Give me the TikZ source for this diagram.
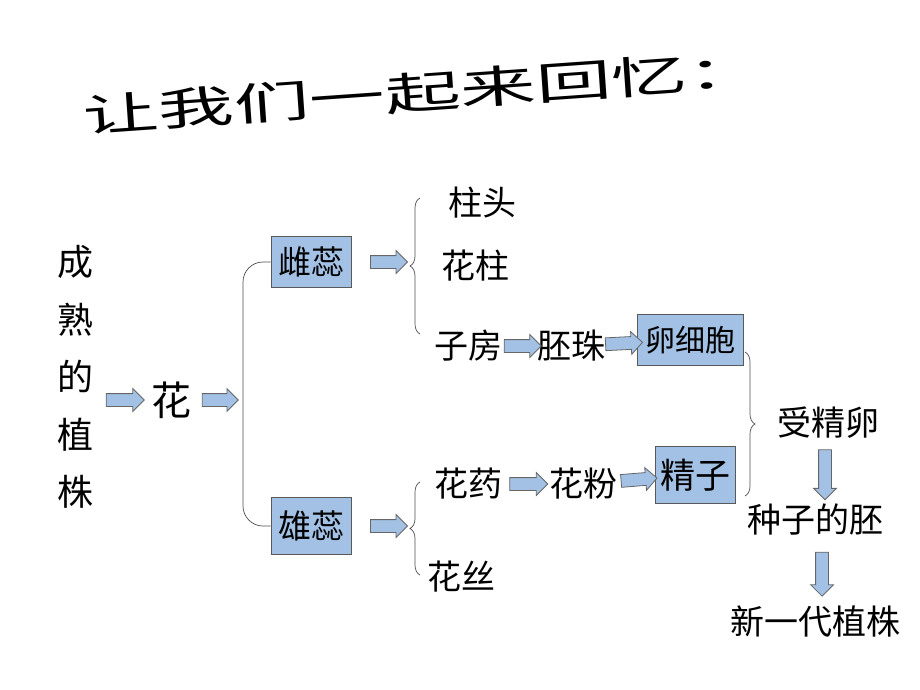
\documentclass[tikz,border=0pt]{standalone}
\usepackage{fontspec}
\setmainfont{Noto Sans CJK SC}
\usepackage{xcolor}
\usetikzlibrary{shapes.arrows, decorations.pathreplacing, positioning}
\definecolor{boxblue}{RGB}{163,193,228}
\newcommand{\fsz}[1]{\fontsize{#1}{#1}\selectfont}

\begin{document}
\begin{tikzpicture}[
        x=1pt, y=-1pt,
        word/.style={inner sep=0pt, font=\fsz{34}},
        box/.style={rectangle, draw=black!65, fill=boxblue, line width=1pt, inner sep=4pt, font=\fsz{33}},
        barrow/.style={single arrow, draw=black!60, fill=boxblue, line width=0.8pt, inner sep=0pt, inner ysep=6pt, single arrow head extend=5pt, sloped},
        brace/.style={decorate, decoration={brace, amplitude=10pt}, draw=black!70, line width=0.7pt},
        bracket/.style={draw=black!70, line width=0.7pt, rounded corners=20pt}
    ]
        \useasboundingbox (0,0) rectangle (920,690);

        % title
        \node [inner sep=0pt, font=\fsz{44}, rotate=4, xscale=1.72] (title) at (423,92) {让我们一起来回忆：};

        % left part
        \node [inner sep=0pt, font=\fontsize{36}{57.5}\selectfont, align=center] (plant) at (75,377) {成\\熟\\的\\植\\株};
        \node [word, font=\fsz{40}] (hua) at (171,400) {花};
        \coordinate (fork) at (243,400);
        \node [box, minimum width=80pt, minimum height=51pt] (cirui) at (311,262) {雌蕊};
        \node [box, minimum width=80pt, minimum height=57pt] (xiongrui) at (311,526) {雄蕊};

        % pistil
        \coordinate (bt1) at (420,334);
        \coordinate (bt2) at (420,198);
        \node [word] (zhutou) at (482,203) {柱头};
        \node [word] (huazhu) at (475,266) {花柱};
        \node [word] (zifang) at (468,346) {子房};
        \node [word] (peizhu) at (571,346) {胚珠};
        \node [box, font=\fsz{30}, minimum width=106pt, minimum height=51pt] (luan) at (690,340) {卵细胞};

        % stamen
        \coordinate (bb1) at (420,575);
        \coordinate (bb2) at (420,482);
        \node [word] (huayao) at (468,484) {花药};
        \node [word] (huafen) at (583,484) {花粉};
        \node [box, font=\fsz{35}, minimum width=80pt, minimum height=57pt] (jingzi) at (695,475) {精子};
        \node [word] (huasi) at (461,577) {花丝};

        % right part
        \coordinate (br1) at (745,352);
        \coordinate (br2) at (745,496);
        \node [word] (shoujing) at (828,423) {受精卵};
        \node [word] (zhongzi) at (815,520) {种子的胚};
        \node [word] (xinzhu) at (815,622) {新一代植株};

        % connectors
        \path (plant.east |- hua) -- node [barrow, minimum height=38pt] {} (hua);
        \path (hua) -- node [barrow, minimum height=36pt] {} (fork);
        \draw [bracket] (cirui.west) -| (fork) |- (xiongrui.west);
        \path (cirui.east) -- node [barrow, minimum height=37pt] {} (cirui.east -| bt1);
        \path (xiongrui.east) -- node [barrow, minimum height=37pt] {} (xiongrui.east -| bb1);
        \draw [brace] (bt1) -- (bt2);
        \draw [brace] (bb1) -- (bb2);
        \path (zifang) -- node [barrow, minimum height=37pt] {} (peizhu);
        \path (peizhu) -- node [barrow, minimum height=37pt] {} (luan);
        \path (huayao) -- node [barrow, minimum height=38pt] {} (huafen);
        \path (huafen) -- node [barrow, minimum height=36pt] {} (jingzi);
        \draw [brace] (br1) -- (br2);
        \path ([xshift=-6pt]shoujing.south) -- node [barrow, minimum height=50pt, yshift=3pt] {} ([xshift=-6pt]shoujing.south |- zhongzi.north);
        \path ([xshift=7pt]zhongzi.south) -- node [barrow, minimum height=44pt] {} ([xshift=7pt]zhongzi.south |- xinzhu.north);
    \end{tikzpicture}
\end{document}
